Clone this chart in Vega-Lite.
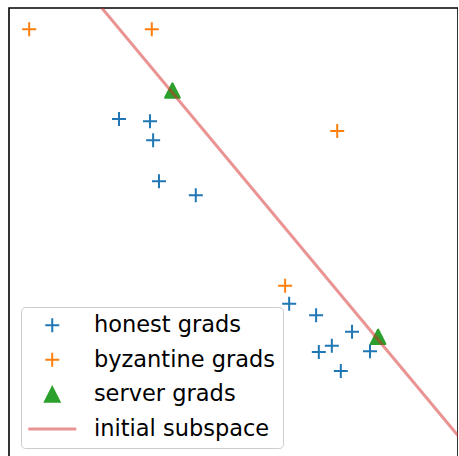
{
  "$schema": "https://vega.github.io/schema/vega-lite/v6.json",
  "width": 449,
  "height": 451,
  "autosize": "none",
  "padding": {"left": 9, "top": 8, "right": 0, "bottom": 0},
  "background": "white",
  "config": {
    "view": {"stroke": "#000000", "strokeWidth": 1.6},
    "font": "DejaVu Sans",
    "legend": {
      "orient": "bottom-left",
      "offset": 11.5,
      "padding": 7,
      "symbolOffset": 13,
      "labelOffset": 30.4,
      "rowPadding": 11.6,
      "labelFontSize": 22.5,
      "labelFont": "DejaVu Sans",
      "labelColor": "#000000",
      "strokeColor": "#cccccc",
      "fillColor": "rgba(255,255,255,0.8)",
      "cornerRadius": 4,
      "symbolSize": 196,
      "symbolStrokeWidth": 2,
      "symbolOpacity": 1,
      "labelLimit": 400
    }
  },
  "layer": [
    {
      "data": {
        "values": [
          {"series": "honest grads", "x": 2.45, "y": 7.54},
          {"series": "honest grads", "x": 3.14, "y": 7.49},
          {"series": "honest grads", "x": 3.21, "y": 7.07},
          {"series": "honest grads", "x": 3.34, "y": 6.16},
          {"series": "honest grads", "x": 4.16, "y": 5.85},
          {"series": "honest grads", "x": 6.24, "y": 3.44},
          {"series": "honest grads", "x": 6.84, "y": 3.19},
          {"series": "honest grads", "x": 7.64, "y": 2.82},
          {"series": "honest grads", "x": 7.19, "y": 2.51},
          {"series": "honest grads", "x": 6.90, "y": 2.37},
          {"series": "honest grads", "x": 8.04, "y": 2.39},
          {"series": "honest grads", "x": 7.39, "y": 1.95},
          {"series": "byzantine grads", "x": 0.45, "y": 9.53},
          {"series": "byzantine grads", "x": 3.18, "y": 9.53},
          {"series": "byzantine grads", "x": 7.31, "y": 7.27},
          {"series": "byzantine grads", "x": 6.15, "y": 3.84},
          {"series": "server grads", "x": 3.64, "y": 8.17},
          {"series": "server grads", "x": 8.22, "y": 2.71}
        ]
      },
      "mark": {"type": "point", "filled": true, "size": 196, "strokeWidth": 2, "opacity": 1, "strokeJoin": "round"},
      "encoding": {
        "x": {"field": "x", "type": "quantitative", "scale": {"domain": [0, 10], "nice": false, "zero": false}, "axis": null},
        "y": {"field": "y", "type": "quantitative", "scale": {"domain": [0, 10], "nice": false, "zero": false}, "axis": null},
        "color": {
          "field": "series", "type": "nominal",
          "scale": {"domain": ["honest grads", "byzantine grads", "server grads", "initial subspace"], "range": ["#1f77b4", "#ff7f0e", "#2ca02c", "#ea9393"]},
          "legend": {"title": null, "encode": {"symbols": {"update": {"strokeWidth": {"signal": "datum.value === 'initial subspace' ? 3 : 2"}}}}}
        },
        "stroke": {
          "field": "series", "type": "nominal",
          "scale": {"domain": ["honest grads", "byzantine grads", "server grads", "initial subspace"], "range": ["#1f77b4", "#ff7f0e", "#2ca02c", "#ea9393"]},
          "legend": {"title": null}
        },
        "shape": {
          "field": "series", "type": "nominal",
          "scale": {"domain": ["honest grads", "byzantine grads", "server grads", "initial subspace"], "range": ["M-1,0H1M0,-1V1", "M-1,0H1M0,-1V1", "M0,-1.03L-1.05,1.03L1.05,1.03Z", "M-3.43,0H3.43"]},
          "legend": {"title": null}
        }
      }
    },
    {
      "data": {"values": [{"x": 1.8, "y": 10.32}, {"x": 10.3, "y": 0.16}]},
      "mark": {"type": "line", "stroke": "#d62728", "opacity": 0.5, "strokeWidth": 3, "clip": true},
      "encoding": {
        "x": {"field": "x", "type": "quantitative"},
        "y": {"field": "y", "type": "quantitative"}
      }
    }
  ]
}
